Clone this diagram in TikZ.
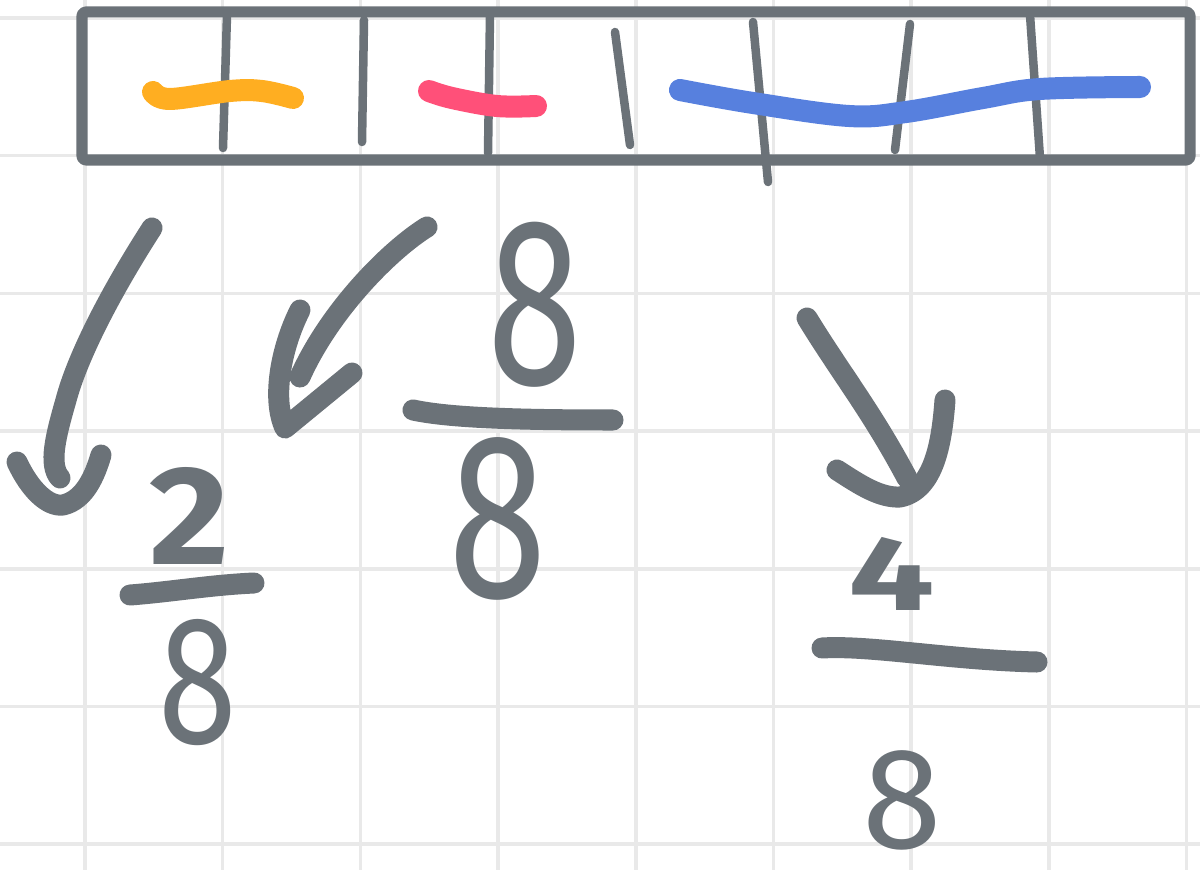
\documentclass[tikz,border=0pt]{standalone}
\usepackage{fontspec}
\setsansfont{Fira Sans}
\usetikzlibrary{
  positioning,
  arrows.meta
}
\usepackage{xcolor}
\definecolor{pen}{HTML}{6B7278}
\definecolor{gridc}{HTML}{E9E9E9}
\definecolor{hlorange}{HTML}{FFAE21}
\definecolor{hlpink}{HTML}{FF5079}
\definecolor{hlblue}{HTML}{5780DE}

\begin{document}
\begin{tikzpicture}[
  x=0.01cm, y=-0.01cm,
  grd/.style={draw=gridc, line width=0.035cm},
  frame/.style={draw=pen, line width=0.11cm, line join=round, rounded corners=1pt},
  tick/.style={draw=pen, line width=0.085cm, line cap=round},
  hl/.style={line width=0.22cm, line cap=round, line join=round},
  ink/.style={draw=pen, line width=0.21cm, line cap=round, line join=round},
  dig/.style={text=pen, inner sep=0pt, font=\sffamily\fontsize{#1}{#1}\selectfont},
]
  \useasboundingbox (0,0) rectangle (1200,870);

  % Paper grid
  \foreach \k in {0,...,8}
    \draw[grd] ({85+137.7*\k},0) -- ({85+137.7*\k},870);
  \foreach \k in {0,...,6}
    \draw[grd] (0,{18+137.7*\k}) -- (1200,{18+137.7*\k});

  % The strip and its eight parts
  \draw[frame] (82,12) rectangle (1190,160);
  \draw[tick] (227,15) -- (223,148);
  \draw[tick] (364,20) -- (362,142);
  \draw[tick] (490,15) -- (488,153);
  \draw[tick] (615,32) -- (630,145);
  \draw[tick] (753,22) -- (768,182);
  \draw[tick] (910,24) -- (895,150);
  \draw[tick] (1030,15) -- (1040,158);

  % Marked parts
  \draw[hl, hlorange] plot[smooth, tension=0.6] coordinates {(153,92) (170,99) (230,91) (262,91) (293,98)};
  \draw[hl, hlpink] plot[smooth, tension=0.6] coordinates {(429,91) (452,98) (497,106) (536,106)};
  \draw[hl, hlblue] plot[smooth, tension=0.6] coordinates {(680,90) (753,103) (849,116) (906,112) (983,98) (1040,89) (1140,87)};

  % Fractions
  \node[dig=40] (n1) at (189,516) {\bfseries\scalebox{1.1}[1]{2}};
  \node[dig=52] (d1) at (198,683) {\scalebox{0.78}[1]{8}};
  \draw[ink] (130,595) .. controls (170,592) and (210,585) .. (254,583);

  \node[dig=68] (n2) at (535,305) {\scalebox{0.72}[1]{8}};
  \node[dig=67] (d2) at (498,519) {\scalebox{0.76}[1]{8}};
  \draw[ink] (413,410) .. controls (450,418) and (520,420) .. (613,420);

  \node[dig=30] (n3) at (892,574) {\bfseries\scalebox{1.45}[1]{4}};
  \node[dig=41] (d3) at (902,800) {8};
  \draw[ink] (822,648) .. controls (870,645) and (950,660) .. (1037,662);

  % Arrows down to the fractions
  \coordinate (t1) at (152,228);
  \coordinate (h1) at (60,478);
  \draw[ink] (t1) .. controls (112,290) and (78,355) .. (66,400) .. controls (56,435) and (48,465) .. (h1);
  \draw[ink] (17,462) .. controls (30,490) and (48,507) .. (63,505) .. controls (85,500) and (95,475) .. (101,455);

  \coordinate (t2) at (427,227);
  \coordinate (h2) at (300,377);
  \draw[ink] (t2) .. controls (390,250) and (330,310) .. (h2);
  \draw[ink] (300,310) .. controls (280,350) and (272,400) .. (285,428) -- (352,373);

  \coordinate (t3) at (807,318);
  \coordinate (h3) at (907,478);
  \draw[ink] (t3) .. controls (840,372) and (872,412) .. (h3);
  \draw[ink] (837,470) .. controls (860,485) and (880,498) .. (900,497) .. controls (935,490) and (942,440) .. (945,400);
\end{tikzpicture}
\end{document}
